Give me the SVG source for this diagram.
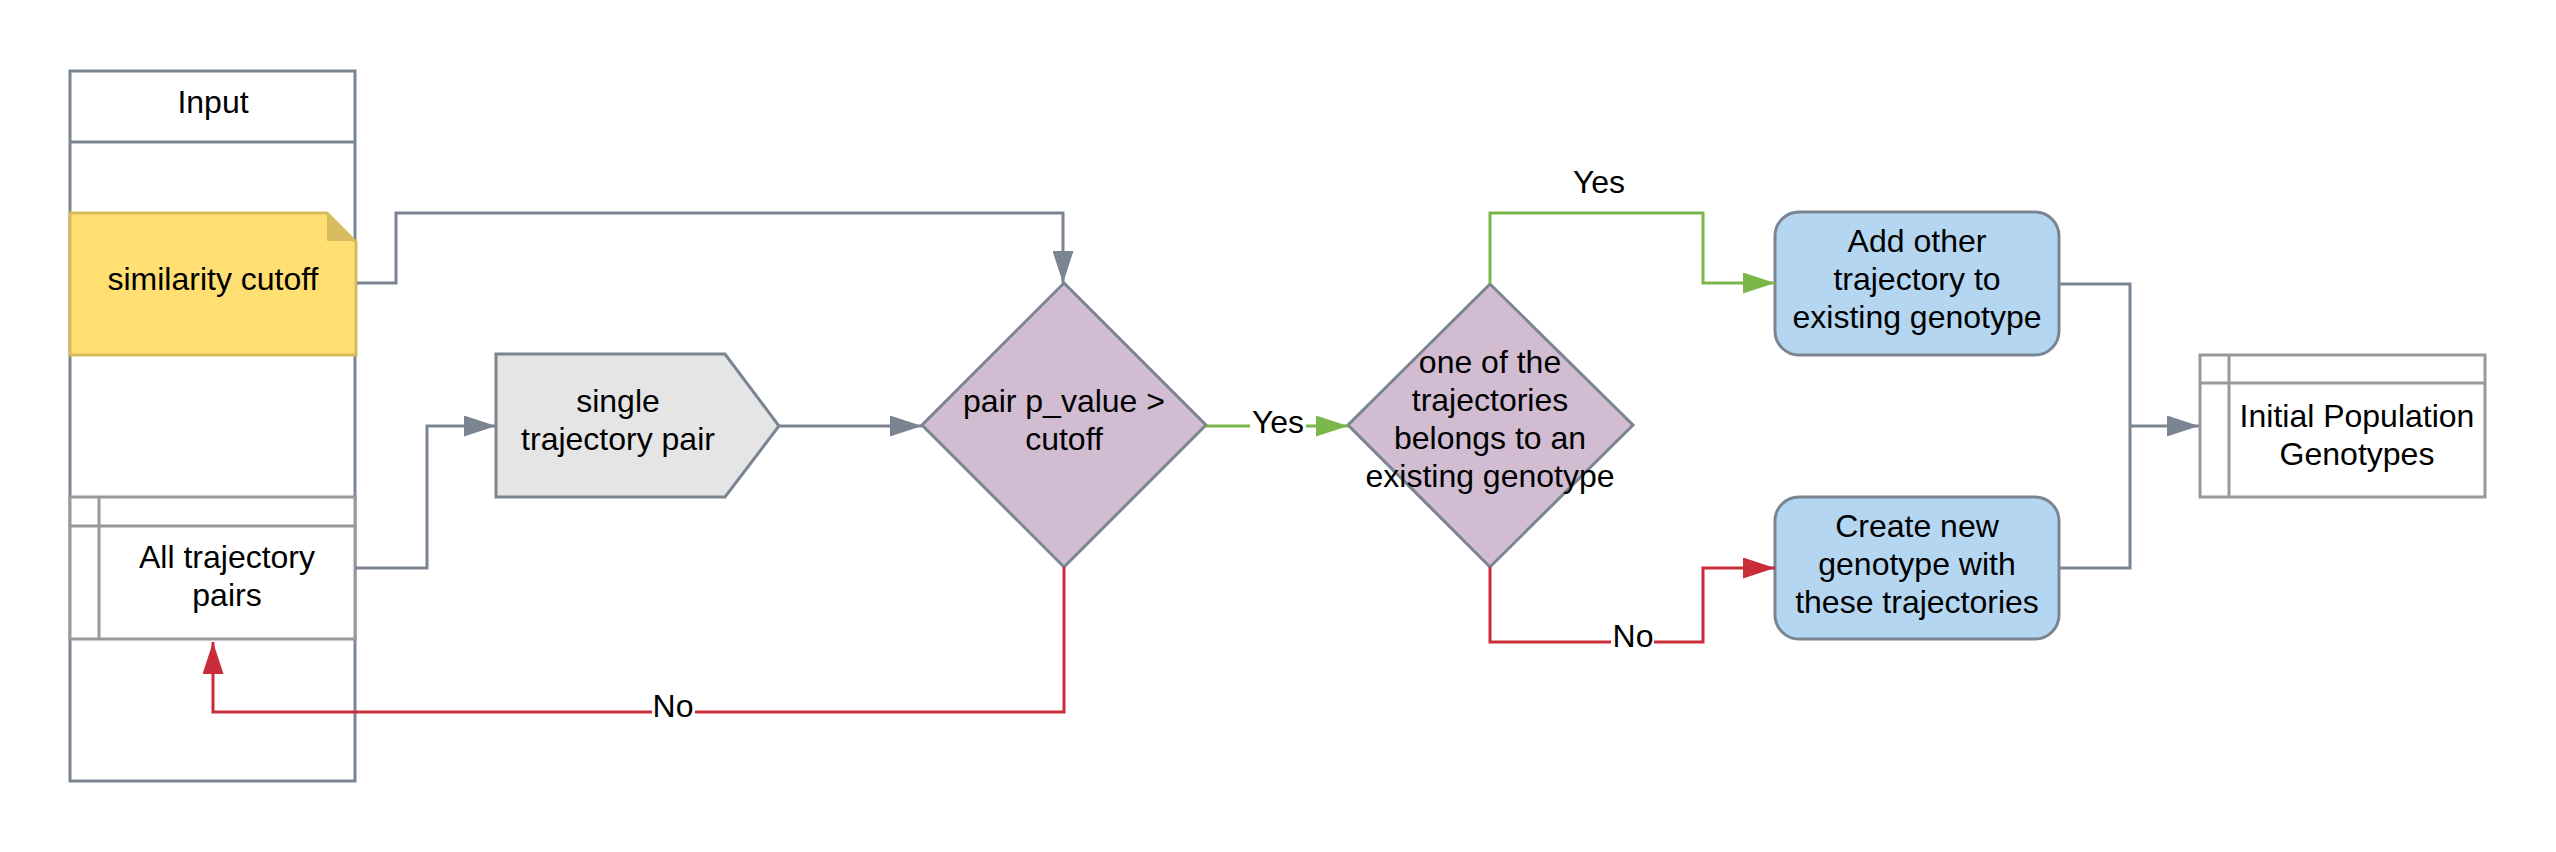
<svg xmlns="http://www.w3.org/2000/svg" width="2556" height="852" viewBox="0 0 2556 852">
<style>
text{font-family:"Liberation Sans",Arial,sans-serif;font-size:32px;fill:#000;text-anchor:middle}
.g{fill:none;stroke:#7b8591;stroke-width:3}
.grn{fill:none;stroke:#7ab648;stroke-width:3}
.red{fill:none;stroke:#c92d39;stroke-width:3}
.tbl{fill:#fff;stroke:#999;stroke-width:3}
.lbl{fill:#fff}
</style>
<defs>
<marker id="ag" markerUnits="userSpaceOnUse" markerWidth="32" markerHeight="21" refX="32" refY="10.5" orient="auto"><path d="M0,0 L32,10.5 L0,21 z" fill="#7b8591"/></marker>
<marker id="agr" markerUnits="userSpaceOnUse" markerWidth="32" markerHeight="21" refX="32" refY="10.5" orient="auto"><path d="M0,0 L32,10.5 L0,21 z" fill="#7ab648"/></marker>
<marker id="ar" markerUnits="userSpaceOnUse" markerWidth="32" markerHeight="21" refX="32" refY="10.5" orient="auto"><path d="M0,0 L32,10.5 L0,21 z" fill="#c92d39"/></marker>
</defs>
<rect width="2556" height="852" fill="#fff"/>
<g id="input">
<rect x="70" y="71" width="285" height="710" fill="#fff" stroke="#7b8591" stroke-width="3"/>
<line x1="70" y1="142" x2="355" y2="142" stroke="#7b8591" stroke-width="3"/>
<text x="213" y="113">Input</text>
</g>
<g id="similarity-cutoff">
<polygon points="70,213 327,213 356,242 356,355 70,355" fill="#ffdf71" stroke="#d6bc5e" stroke-width="3"/>
<polygon points="327,213 327,241 356,241" fill="#d6bc5e"/>
<text x="213" y="290">similarity cutoff</text>
</g>
<g id="all-pairs">
<rect x="70" y="497" width="285" height="142" class="tbl"/>
<line x1="70" y1="526" x2="355" y2="526" stroke="#999" stroke-width="3"/>
<line x1="99" y1="497" x2="99" y2="639" stroke="#999" stroke-width="3"/>
<text x="227" y="568">All trajectory</text>
<text x="227" y="606">pairs</text>
</g>
<g id="single-pair">
<polygon points="496,354 725,354 779,426 725,497 496,497" fill="#e5e5e5" stroke="#7b8591" stroke-width="3"/>
<text x="618" y="412">single</text>
<text x="618" y="450">trajectory pair</text>
</g>
<g id="pvalue">
<polygon points="1064,283 1206,425 1064,567 922,425" fill="#d1bcd2" stroke="#7b8591" stroke-width="3"/>
<text x="1064" y="412">pair p_value &gt;</text>
<text x="1064" y="450">cutoff</text>
</g>
<g id="belongs">
<polygon points="1490,284 1633,425 1490,567 1348,425" fill="#d1bcd2" stroke="#7b8591" stroke-width="3"/>
<text x="1490" y="373">one of the</text>
<text x="1490" y="411">trajectories</text>
<text x="1490" y="449">belongs to an</text>
<text x="1490" y="487">existing genotype</text>
</g>
<g id="add-other">
<rect x="1775" y="212" width="284" height="143" rx="24" fill="#b4d6f0" stroke="#7b8591" stroke-width="3"/>
<text x="1917" y="252">Add other</text>
<text x="1917" y="290">trajectory to</text>
<text x="1917" y="328">existing genotype</text>
</g>
<g id="create-new">
<rect x="1775" y="497" width="284" height="142" rx="24" fill="#b4d6f0" stroke="#7b8591" stroke-width="3"/>
<text x="1917" y="537">Create new</text>
<text x="1917" y="575">genotype with</text>
<text x="1917" y="613">these trajectories</text>
</g>
<g id="initial-population">
<rect x="2200" y="355" width="285" height="142" class="tbl"/>
<line x1="2200" y1="383" x2="2485" y2="383" stroke="#999" stroke-width="3"/>
<line x1="2229" y1="355" x2="2229" y2="497" stroke="#999" stroke-width="3"/>
<text x="2357" y="427">Initial Population</text>
<text x="2357" y="465">Genotypes</text>
</g>
<g id="connectors">
<path class="g" d="M357 283 H396 V213 H1063 V283" marker-end="url(#ag)"/>
<path class="g" d="M355 568 H427 V426 H496" marker-end="url(#ag)"/>
<path class="g" d="M779 426 H922" marker-end="url(#ag)"/>
<path class="grn" d="M1206 426 H1348" marker-end="url(#agr)"/>
<rect class="lbl" x="1250" y="405" width="56" height="36"/>
<text x="1278" y="433">Yes</text>
<path class="red" d="M1064 567 V712 H213 V642" marker-end="url(#ar)"/>
<rect class="lbl" x="652" y="692" width="43" height="34"/>
<text x="673" y="717">No</text>
<path class="grn" d="M1490 284 V213 H1703 V283 H1775" marker-end="url(#agr)"/>
<text x="1599" y="193">Yes</text>
<path class="red" d="M1490 567 V642 H1703 V568 H1775" marker-end="url(#ar)"/>
<rect class="lbl" x="1611" y="622" width="43" height="34"/>
<text x="1633" y="647">No</text>
<path class="g" d="M2059 284 H2130 V568 H2059"/>
<path class="g" d="M2130 426 H2199" marker-end="url(#ag)"/>
</g>
</svg>
